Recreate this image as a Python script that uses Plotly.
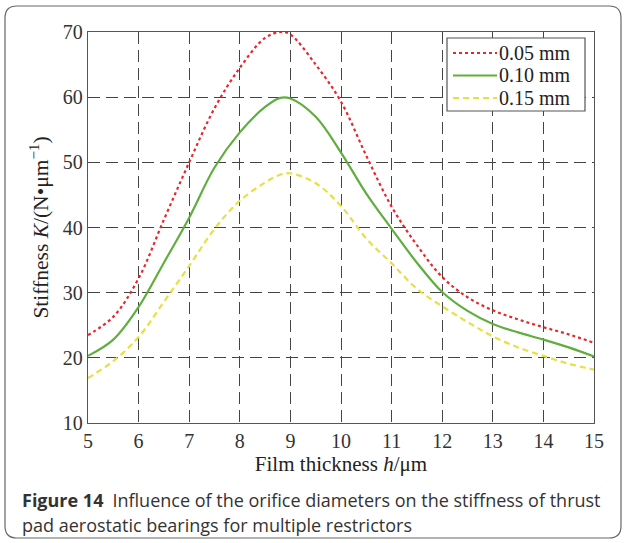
import plotly.graph_objects as go

# Film thickness h (um)
film_thickness = [5, 5.5, 6, 6.5, 7, 7.5, 8, 8.5, 8.8, 9, 9.5, 10, 10.5, 11,
                  11.5, 12, 12.5, 13, 13.5, 14, 14.5, 15]

# Stiffness K (N/um) for each orifice diameter
k_005 = [23.5, 26.3, 32.2, 41.2, 50.0, 58.3, 64.5, 69.1, 70.0, 69.6, 65.0, 59.3,
         51.0, 43.2, 37.3, 32.4, 29.3, 27.3, 25.9, 24.7, 23.6, 22.3]
k_010 = [20.3, 22.8, 27.8, 34.6, 41.5, 49.2, 54.6, 58.5, 59.9, 59.8, 57.0, 51.5,
         45.2, 39.8, 34.6, 30.1, 27.2, 25.2, 23.9, 22.8, 21.6, 20.2]
k_015 = [16.9, 19.5, 23.2, 28.6, 34.1, 39.8, 44.1, 46.9, 48.1, 48.3, 46.8, 43.3,
         38.3, 34.5, 30.6, 27.9, 25.5, 23.3, 21.6, 20.3, 19.1, 18.2]

series_names = ["0.05 mm", "0.10 mm", "0.15 mm"]
x_ticks = list(range(5, 16))
y_ticks = [10, 20, 30, 40, 50, 60, 70]

serif = "Liberation Serif, Times New Roman, serif"
sans = "Open Sans, Noto Sans, sans-serif"

W, H = 624, 543
L, R, T, B = 88, 30, 32, 120
pw, ph = W - L - R, H - T - B


def px_x(px):
    return (px - L) / pw


def px_y(py):
    return (H - B - py) / ph


line_styles = [
    dict(color="#e8262c", width=2.2, dash="dot"),
    dict(color="#62ad3f", width=2.2, dash="solid"),
    dict(color="#e6e042", width=2.2, dash="6px,4px"),
]

fig = go.Figure()
for name, ys, style in zip(series_names, [k_005, k_010, k_015], line_styles):
    fig.add_trace(go.Scatter(x=film_thickness, y=ys, name=name, mode="lines",
                             line=dict(shape="spline", **style)))

grid_style = dict(showgrid=True, gridcolor="#444444", gridwidth=1.4, griddash="12px,6px",
                  showline=True, linecolor="#555555", linewidth=1.3, mirror=True,
                  ticks="", zeroline=False,
                  tickfont=dict(family=serif, size=20, color="#333333"))

fig.update_xaxes(range=[5, 15], tickvals=x_ticks,
                 title=dict(text="Film thickness <i>h</i>/\u03bcm", standoff=4,
                            font=dict(family=serif, size=21, color="#222222")),
                 **grid_style)
fig.update_yaxes(range=[10, 70], tickvals=y_ticks,
                 title=dict(text="Stiffness <i>K</i>/(N\u2022\u03bcm<sup>\u22121</sup>)", standoff=8,
                            font=dict(family=serif, size=21.5, color="#222222")),
                 **grid_style)

# Rounded outer frame around chart and caption
x0, x1 = px_x(5), px_x(621)
y0, y1 = px_y(538), px_y(6)
rx, ry = 12 / pw, 12 / ph
frame_path = (f"M {x0+rx},{y1} L {x1-rx},{y1} Q {x1},{y1} {x1},{y1-ry} "
              f"L {x1},{y0+ry} Q {x1},{y0} {x1-rx},{y0} "
              f"L {x0+rx},{y0} Q {x0},{y0} {x0},{y0+ry} "
              f"L {x0},{y1-ry} Q {x0},{y1} {x0+rx},{y1} Z")
fig.add_shape(type="path", path=frame_path, xref="paper", yref="paper",
              line=dict(color="#666666", width=1.2), layer="below")

# Legend box with line samples and labels
fig.add_shape(type="rect", xref="paper", yref="paper",
              x0=px_x(447), x1=px_x(585), y0=px_y(111), y1=px_y(38),
              fillcolor="white", line=dict(color="#555555", width=1.2), layer="above")
for i, (name, style) in enumerate(zip(series_names, line_styles)):
    row_y = px_y(53 + 22.5 * i)
    fig.add_shape(type="line", xref="paper", yref="paper",
                  x0=px_x(453), x1=px_x(497), y0=row_y, y1=row_y,
                  line=style, layer="above")
    fig.add_annotation(x=px_x(498), y=row_y, xref="paper", yref="paper",
                       xanchor="left", yanchor="middle", showarrow=False,
                       borderpad=0, text=name,
                       font=dict(family=serif, size=20, color="#222222"))

fig.add_annotation(x=px_x(20), y=px_y(500), xref="paper", yref="paper",
                   xanchor="left", yanchor="middle", showarrow=False, align="left",
                   text="<b>Figure 14</b>\u2002Influence of the orifice diameters on the stiffness of thrust",
                   font=dict(family=sans, size=18, color="#333333"))
fig.add_annotation(x=px_x(20), y=px_y(525), xref="paper", yref="paper",
                   xanchor="left", yanchor="middle", showarrow=False, align="left",
                   text="pad aerostatic bearings for multiple restrictors",
                   font=dict(family=sans, size=18, color="#333333"))

fig.update_layout(
    width=W, height=H,
    margin=dict(l=L, r=R, t=T, b=B),
    paper_bgcolor="white", plot_bgcolor="white",
    showlegend=False,
)

fig.write_html("out.html")
